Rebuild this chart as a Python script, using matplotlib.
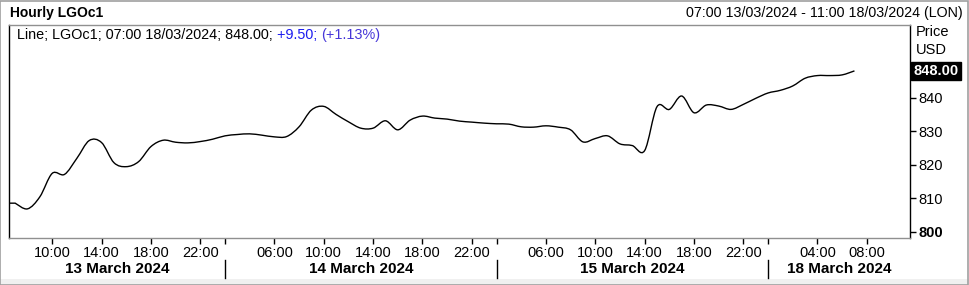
import matplotlib
matplotlib.use("Agg")
import matplotlib.pyplot as plt
from matplotlib.transforms import blended_transform_factory
from matplotlib.lines import Line2D
from matplotlib.patches import Rectangle, PathPatch
from matplotlib.path import Path

plt.rcParams['font.family'] = ['Liberation Sans', 'DejaVu Sans']

# hourly closes, one per bar (07:00 13/03 ... 07:00 18/03)
prices = [808.5, 806.8, 810.4, 817.4, 817.1, 821.9, 827.2, 826.6, 820.6, 819.4,
          820.9, 825.4, 827.3, 826.7, 826.5, 826.9, 827.6, 828.6, 829.0, 829.2,
          828.8, 828.3, 828.4, 831.3, 836.3, 837.4, 835.0, 832.8, 830.9, 830.9,
          833.1, 830.4, 833.3, 834.5, 833.9, 833.6, 833.0, 832.7, 832.4, 832.2,
          832.1, 831.3, 831.2, 831.6, 831.2, 830.4, 826.8, 827.8, 828.6, 826.2,
          825.7, 824.2, 837.3, 836.5, 840.5, 835.5, 837.8, 837.5, 836.5, 838.0,
          839.8, 841.4, 842.2, 843.5, 845.8, 846.6, 846.6, 846.8, 848.0]

# bar index of each hour label
hour_pos = [3, 7, 11, 15, 21, 25, 29, 33, 37, 43, 47, 51, 55, 59, 65, 69]
hour_labels = ["10:00", "14:00", "18:00", "22:00",
               "06:00", "10:00", "14:00", "18:00", "22:00",
               "06:00", "10:00", "14:00", "18:00", "22:00",
               "04:00", "08:00"]
day_edges = [-0.5, 17, 39, 61, 72.5]
day_labels = ["13 March 2024", "14 March 2024", "15 March 2024", "18 March 2024"]

y_ticks = [800, 810, 820, 830, 840]
last_price = 848.00
change = "+9.50;"
change_pct = "(+1.13%)"

W, H = 969, 285
fig = plt.figure(figsize=(W / 100, H / 100), dpi=100)
fig.patch.set_facecolor('white')

def fx(px):
    return px / W

def fy(py):
    return 1 - py / H

ax = fig.add_axes([fx(9), fy(238), fx(910) - fx(9), fy(25) - fy(238)])

# smooth line through the closes (Catmull-Rom as bezier segments)
xs = list(range(len(prices)))
verts = [(day_edges[0], prices[0]), (xs[0], prices[0])]
codes = [Path.MOVETO, Path.LINETO]
n = len(prices)
for i in range(n - 1):
    p0 = (xs[max(i - 1, 0)], prices[max(i - 1, 0)])
    p1 = (xs[i], prices[i])
    p2 = (xs[i + 1], prices[i + 1])
    p3 = (xs[min(i + 2, n - 1)], prices[min(i + 2, n - 1)])
    c1 = (p1[0] + (p2[0] - p0[0]) / 6, p1[1] + (p2[1] - p0[1]) / 6)
    c2 = (p2[0] - (p3[0] - p1[0]) / 6, p2[1] - (p3[1] - p1[1]) / 6)
    verts += [c1, c2, p2]
    codes += [Path.CURVE4] * 3
ax.add_patch(PathPatch(Path(verts, codes), fc='none', ec='black', lw=1.0))

ax.set_xlim(day_edges[0], day_edges[-1])
ax.set_ylim(798.1, 861.7)

for s in ['left', 'right']:
    ax.spines[s].set_color('black')
for s in ['top', 'bottom']:
    ax.spines[s].set_color('#909090')
for s in ax.spines.values():
    s.set_linewidth(1.0)

ax.yaxis.tick_right()
ax.set_yticks(y_ticks)
ax.set_yticklabels([str(v) for v in y_ticks], fontsize=10.5)
ax.get_yticklabels()[0].set_fontweight('bold')
ax.tick_params(axis='y', direction='out', length=4, width=1, pad=2, colors='black')

ax.set_xticks(hour_pos + day_edges[1:-1])
ax.set_xticklabels(hour_labels + [""] * (len(day_edges) - 2), fontsize=10.5)
ax.tick_params(axis='x', direction='out', length=4, width=1, pad=2, colors='black')

# day labels and separators under the hour labels
bt = blended_transform_factory(ax.transData, fig.transFigure)
for i, lab in enumerate(day_labels):
    mid = (day_edges[i] + day_edges[i + 1]) / 2
    fig.text(mid, fy(269), lab, transform=bt, ha='center', va='center',
             fontsize=11, fontweight='bold')
for e in day_edges[1:-1]:
    fig.add_artist(Line2D([e, e], [fy(260), fy(278)], transform=bt,
                          color='black', lw=1))

# header
fig.text(fx(10), fy(13), "Hourly LGOc1", ha='left', va='center',
         fontsize=10, fontweight='bold')
fig.text(fx(963), fy(13), "07:00 13/03/2024 - 11:00 18/03/2024 (LON)",
         ha='right', va='center', fontsize=10.3)

# legend line
t = fig.text(fx(17), fy(35), "Line; LGOc1; 07:00 18/03/2024; 848.00; ",
             ha='left', va='center', fontsize=10.4)
fig.canvas.draw()
bb = t.get_window_extent()
t2 = fig.text(bb.x1 / W, fy(35), change + " ", ha='left', va='center',
              fontsize=10.4, color='#1c1cf0')
bb2 = t2.get_window_extent()
fig.text(bb2.x1 / W, fy(35), change_pct, ha='left', va='center',
         fontsize=10.4, color='#4636d8')

# price axis captions and last price box
fig.text(fx(916), fy(32), "Price", ha='left', va='center', fontsize=10.5)
fig.text(fx(916), fy(50), "USD", ha='left', va='center', fontsize=10.5)
yt = blended_transform_factory(ax.transAxes, ax.transData)
ax.text(1.004, last_price, f"{last_price:.2f}", transform=yt, ha='left', va='center',
        fontsize=10.5, fontweight='bold', color='white',
        bbox=dict(boxstyle='square,pad=0.15', fc='black', ec='black'))

# outer frame and bottom strip
fig.add_artist(Rectangle((0, 0), 1, fy(279), transform=fig.transFigure,
                         fc='#f0f0f0', ec='none'))
fig.add_artist(Rectangle((0.0005, 0.001), 0.998, 0.997, transform=fig.transFigure,
                         fc='none', ec='#a0a0a0', lw=1.2))

fig.savefig("out.png", dpi=100)
